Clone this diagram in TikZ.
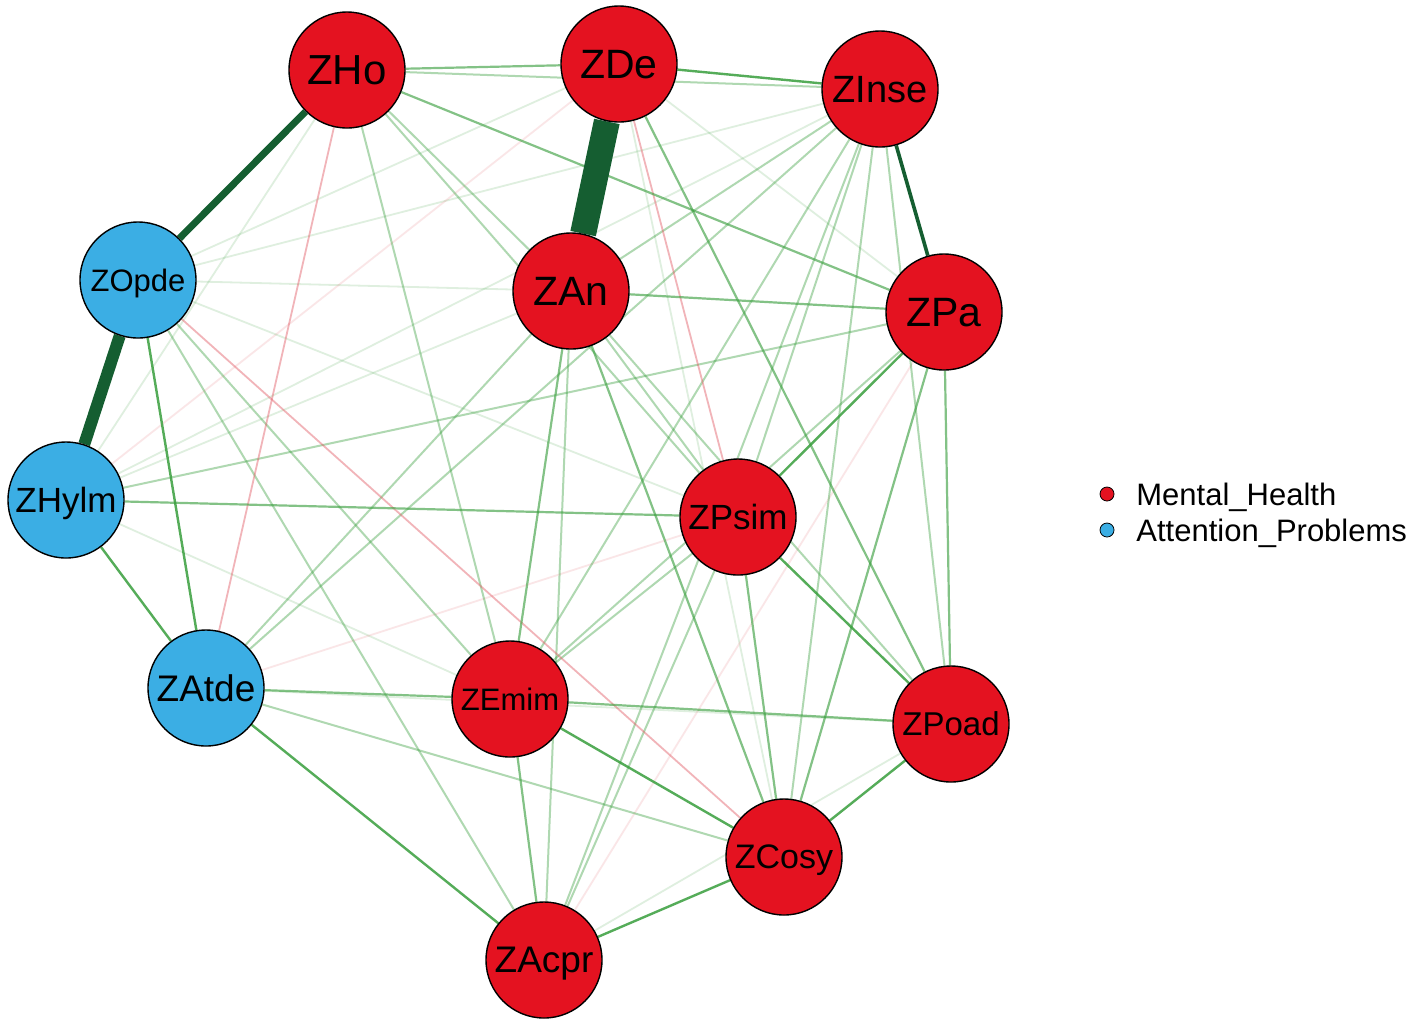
\documentclass[tikz,border=0pt]{standalone}
\usepackage{fontspec}
\setmainfont{Liberation Sans}
\usetikzlibrary{backgrounds}
\definecolor{dkg}{RGB}{21,94,49}
\definecolor{eg}{RGB}{56,158,60}
\definecolor{epk}{RGB}{226,90,100}
\definecolor{nred}{RGB}{228,18,32}
\definecolor{nblue}{RGB}{59,174,228}
\tikzset{
  nd/.style={circle, draw=black, line width=0.7pt, minimum size=58pt, inner sep=0pt, text depth=0pt},
  mh/.style={nd, fill=nred},
  ap/.style={nd, fill=nblue},
  fs/.style={font=\fontsize{#1}{#1}\selectfont},
  thk/.style={draw=dkg, line width=#1},
  wA/.style={draw=eg, line width=1.2pt, draw opacity=0.85},
  wB/.style={draw=eg, line width=1.1pt, draw opacity=0.62},
  wC/.style={draw=eg, line width=1pt, draw opacity=0.40},
  wD/.style={draw=eg, line width=0.9pt, draw opacity=0.16},
  pB/.style={draw=epk, line width=0.9pt, draw opacity=0.45},
  pD/.style={draw=epk, line width=0.9pt, draw opacity=0.15},
  legdot/.style={circle, draw=black, line width=0.4pt, minimum size=7pt, inner sep=0pt},
  legtxt/.style={anchor=west, inner sep=0pt, text depth=0pt, font=\fontsize{15.5}{15.5}\selectfont}
}
\begin{document}
\begin{tikzpicture}[x=0.5pt, y=-0.5pt]
\useasboundingbox (0,0) rectangle (1418,1024);
% nodes
\node[mh, fs=21]   (ZHo)   at (347,70)  {ZHo};
\node[mh, fs=20.5] (ZDe)   at (619,64)  {ZDe};
\node[mh, fs=19]   (ZInse) at (880,89)  {ZInse};
\node[ap, fs=15.5] (ZOpde) at (138,280) {ZOpde};
\node[mh, fs=20.5] (ZAn)   at (571,291) {ZAn};
\node[mh, fs=20.5] (ZPa)   at (944,312) {ZPa};
\node[ap, fs=17.5] (ZHylm) at (66,500)  {ZHylm};
\node[mh, fs=17.5] (ZPsim) at (738,517) {ZPsim};
\node[ap, fs=18.5] (ZAtde) at (206,688) {ZAtde};
\node[mh, fs=15.5] (ZEmim) at (510,699) {ZEmim};
\node[mh, fs=16.5] (ZPoad) at (951,724) {ZPoad};
\node[mh, fs=17]   (ZCosy) at (784,857) {ZCosy};
\node[mh, fs=18.5] (ZAcpr) at (544,960) {ZAcpr};
% legend
\node[legdot, fill=nred]  (L1) at (1107,494) {};
\node[legdot, fill=nblue] (L2) at (1107,530) {};
\node[legtxt] (T1) at (1136,494) {Mental\_Health};
\node[legtxt] (T2) at (1136,530) {Attention\_Problems};
\begin{scope}[on background layer]
\fill[white] (0,0) rectangle (1418,1024);
% faint
\draw[wD] (ZOpde) -- (ZInse);
\draw[wD] (ZOpde) -- (ZDe);
\draw[wD] (ZOpde) -- (ZAn);
\draw[wD] (ZHylm) -- (ZInse);
\draw[wD] (ZHylm) -- (ZAn);
\draw[wD] (ZHylm) -- (ZHo);
\draw[wD] (ZPoad) -- (ZAcpr);
\draw[wD] (ZDe) -- (ZCosy);
\draw[wD] (ZDe) -- (ZPa);
\draw[wD] (ZAtde) -- (ZPoad);
\draw[wD] (ZHylm) -- (ZEmim);
\draw[pD] (ZHylm) -- (ZDe);
\draw[pD] (ZAtde) -- (ZPsim);
\draw[pD] (ZPa) -- (ZAcpr);
% light
\draw[wC] (ZHo) -- (ZAn);
\draw[wC] (ZHo) -- (ZPsim);
\draw[wC] (ZHo) -- (ZEmim);
\draw[wC] (ZHo) -- (ZInse);
\draw[wC] (ZAn) -- (ZInse);
\draw[wC] (ZAn) -- (ZAtde);
\draw[wC] (ZInse) -- (ZAtde);
\draw[wC] (ZInse) -- (ZEmim);
\draw[wC] (ZInse) -- (ZPsim);
\draw[wC] (ZInse) -- (ZPoad);
\draw[wC] (ZInse) -- (ZCosy);
\draw[wC] (ZInse) -- (ZAcpr);
\draw[wC] (ZAn) -- (ZAcpr);
\draw[wC] (ZAn) -- (ZPsim);
\draw[wC] (ZAn) -- (ZPoad);
\draw[wC] (ZPsim) -- (ZEmim);
\draw[wC] (ZPa) -- (ZEmim);
\draw[wC] (ZPsim) -- (ZAcpr);
\draw[wC] (ZOpde) -- (ZAcpr);
\draw[wC] (ZOpde) -- (ZEmim);
\draw[wD] (ZOpde) -- (ZPsim);
\draw[wC] (ZHylm) -- (ZPa);
\draw[wC] (ZAtde) -- (ZCosy);
\draw[pB] (ZHo) -- (ZAtde);
\draw[pB] (ZDe) -- (ZPsim);
\draw[pB] (ZOpde) -- (ZCosy);
% medium
\draw[wB] (ZHo) -- (ZDe);
\draw[wB] (ZHo) -- (ZPa);
\draw[wB] (ZAn) -- (ZPa);
\draw[wB] (ZHylm) -- (ZPsim);
\draw[wB] (ZAtde) -- (ZEmim);
\draw[wB] (ZEmim) -- (ZPoad);
\draw[wB] (ZEmim) -- (ZAcpr);
\draw[wB] (ZAn) -- (ZEmim);
\draw[wB] (ZAn) -- (ZCosy);
\draw[wB] (ZPa) -- (ZPoad);
\draw[wB] (ZPsim) -- (ZCosy);
\draw[wB] (ZDe) -- (ZPoad);
\draw[wB] (ZPa) -- (ZCosy);
% stronger
\draw[wA] (ZHylm) -- (ZAtde);
\draw[wA] (ZOpde) -- (ZAtde);
\draw[wA] (ZEmim) -- (ZCosy);
\draw[wA] (ZCosy) -- (ZAcpr);
\draw[wA] (ZPoad) -- (ZCosy);
\draw[wA] (ZPsim) -- (ZPoad);
\draw[wA] (ZPa) -- (ZPsim);
\draw[wA] (ZDe) -- (ZInse);
\draw[wA] (ZAtde) -- (ZAcpr);
% thick
\draw[thk=1.8pt] (ZInse) -- (ZPa);
\draw[thk=3.5pt] (ZHo) -- (ZOpde);
\draw[thk=6pt] (ZOpde) -- (ZHylm);
\draw[thk=13pt] (ZDe) -- (ZAn);
\end{scope}
\end{tikzpicture}
\end{document}
